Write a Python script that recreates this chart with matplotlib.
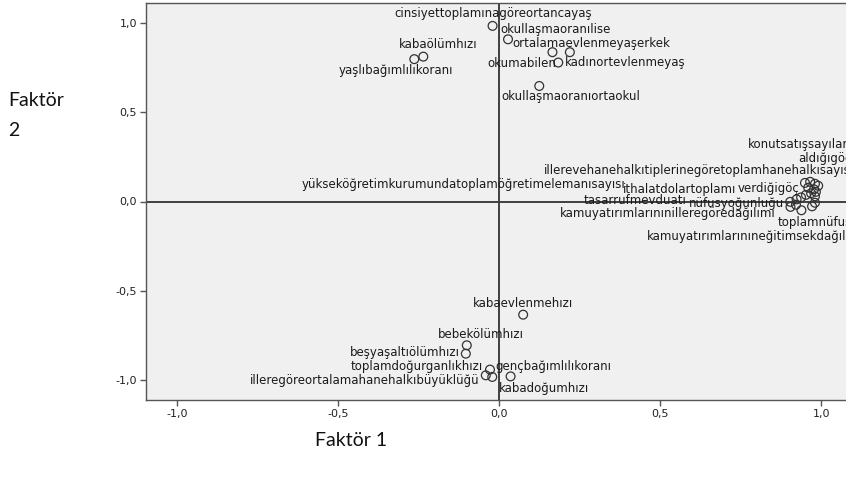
import matplotlib
matplotlib.use('Agg')
import matplotlib.pyplot as plt
from matplotlib.ticker import FixedLocator, FuncFormatter

# ---- data (component loadings) ----
names = [
    "cinsiyettoplamınagöreortancayaş", "okullaşmaoranılise", "okumabilen",
    "ortalamaevlenmeyaşerkek", "kadınortevlenmeyaş", "okullaşmaoranıortaokul",
    "kabaölümhızı", "yaşlıbağımlılıkoranı",
    "kabaevlenmehızı", "bebekölümhızı", "beşyaşaltıölümhızı",
    "toplamdoğurganlıkhızı", "illeregöreortalamahanehalkıbüyüklüğü",
    "gençbağımlılıkoranı", "kabadoğumhızı",
    "yükseköğretimkurumundatoplamöğretimelemanısayısı",
    "illerevehanehalkıtiplerinegöretoplamhanehalkısayısı",
    "aldığıgöç", "konutsatışsayıları", "verdiğigöç",
    "", "", "", "", "",
    "ithalatdolartoplamı", "nüfusyoğunluğu", "tasarrufmevduatı", "",
    "kamuyatırımlarınınilleregöredağılımı", "toplamnüfus",
    "kamuyatırımlarınıneğitimsekdağılımı", "",
]
factor1 = [
    -0.020, 0.028, 0.166, 0.220, 0.184, 0.125, -0.235, -0.263,
    0.075, -0.100, -0.103, -0.028, -0.041, -0.021, 0.036,
    0.950, 0.966, 0.981, 0.991, 0.960,
    0.978, 0.984, 0.969, 0.953, 0.981,
    0.938, 0.924, 0.904, 0.922, 0.905, 0.939, 0.972, 0.981,
]
factor2 = [
    0.982, 0.907, 0.835, 0.835, 0.777, 0.646, 0.810, 0.796,
    -0.633, -0.804, -0.851, -0.940, -0.972, -0.981, -0.978,
    0.104, 0.110, 0.099, 0.088, 0.077,
    0.068, 0.054, 0.046, 0.037, 0.029,
    0.023, 0.012, -0.002, -0.018, -0.030, -0.049, -0.027, -0.007,
]
tick_values = [-1.0, -0.5, 0.0, 0.5, 1.0]
x_title = "Faktör 1"
y_title = ("Faktör", "2")

# ---- label placement (offsets in pixels from the point) ----
label_style = {
    "cinsiyettoplamınagöreortancayaş": (1, 12, "center"),
    "okullaşmaoranılise": (-8, 10, "left"),
    "ortalamaevlenmeyaşerkek": (-57, 9, "left"),
    "okumabilen": (-65, -11, "left"),
    "kadınortevlenmeyaş": (7, 0, "left"),
    "okullaşmaoranıortaokul": (-38, -11, "left"),
    "kabaölümhızı": (-24, 12, "left"),
    "yaşlıbağımlılıkoranı": (-76, -11, "left"),
    "kabaevlenmehızı": (0, 11, "center"),
    "bebekölümhızı": (14, 11, "center"),
    "beşyaşaltıölümhızı": (-6, 1, "right"),
    "toplamdoğurganlıkhızı": (-7, 3, "right"),
    "illeregöreortalamahanehalkıbüyüklüğü": (-6, -5, "right"),
    "gençbağımlılıkoranı": (3, 10, "left"),
    "kabadoğumhızı": (-12, -12, "left"),
    "konutsatışsayıları": (-70, 41, "left"),
    "aldığıgöç": (-17, 25, "left"),
    "illerevehanehalkıtiplerinegöretoplamhanehalkısayısı": (-266, 11, "left"),
    "yükseköğretimkurumundatoplamöğretimelemanısayısı": (-180, -2, "right"),
    "ithalatdolartoplamı": (-178, 8, "left"),
    "verdiğigöç": (-9, -1, "right"),
    "tasarrufmevduatı": (-104, 1, "right"),
    "nüfusyoğunluğu": (-12, -4, "right"),
    "kamuyatırımlarınınilleregöredağılımı": (-15, -7, "right"),
    "toplamnüfus": (-24, -12, "left"),
    "kamuyatırımlarınıneğitimsekdağılımı": (-165, -30, "left"),
}

W, H = 846, 479
fig = plt.figure(figsize=(W / 100, H / 100), dpi=100)
fig.patch.set_facecolor("white")
ax_left, ax_right, ax_top, ax_bottom = 146, 852, 3, 400
ax = fig.add_axes([ax_left / W, 1 - ax_bottom / H,
                   (ax_right - ax_left) / W, (ax_bottom - ax_top) / H])
ax.set_facecolor("#f0f0f0")
ax.set_xlim(-1.096, 1.096)
ax.set_ylim(-1.11, 1.11)

for s in ax.spines.values():
    s.set_color("#555555")
    s.set_linewidth(1.0)

ax.axhline(0, color="#404040", lw=1.4, zorder=1)
ax.axvline(0, color="#404040", lw=1.4, zorder=1)

ax.scatter(factor1, factor2, s=40, facecolors="none", edgecolors="#333333",
           linewidths=0.9, zorder=3)

for n, x, y in zip(names, factor1, factor2):
    if not n:
        continue
    dx, dy, ha = label_style[n]
    ax.annotate(n, (x, y), xytext=(dx, dy), textcoords="offset pixels",
                ha=ha, va="center", fontsize=8.5, color="#1a1a1a",
                family="DejaVu Sans", zorder=4)

fmt = FuncFormatter(lambda v, p: f"{v:.1f}".replace(".", ","))
ax.xaxis.set_major_locator(FixedLocator(tick_values))
ax.yaxis.set_major_locator(FixedLocator(tick_values))
ax.xaxis.set_major_formatter(fmt)
ax.yaxis.set_major_formatter(fmt)
ax.tick_params(direction="out", length=4.5, width=1.0, color="#555555",
               labelsize=8, labelcolor="#222222", pad=2)
ax.tick_params(top=False, right=False)

fig.text(315 / W, 1 - 440 / H, x_title, family="Lato", fontsize=14,
         ha="left", va="center", color="#111111")
fig.text(8 / W, 1 - 100 / H, y_title[0], family="Lato", fontsize=14,
         ha="left", va="center", color="#111111")
fig.text(8 / W, 1 - 131 / H, y_title[1], family="Lato", fontsize=14,
         ha="left", va="center", color="#111111")

fig.savefig("out.png", dpi=100)
